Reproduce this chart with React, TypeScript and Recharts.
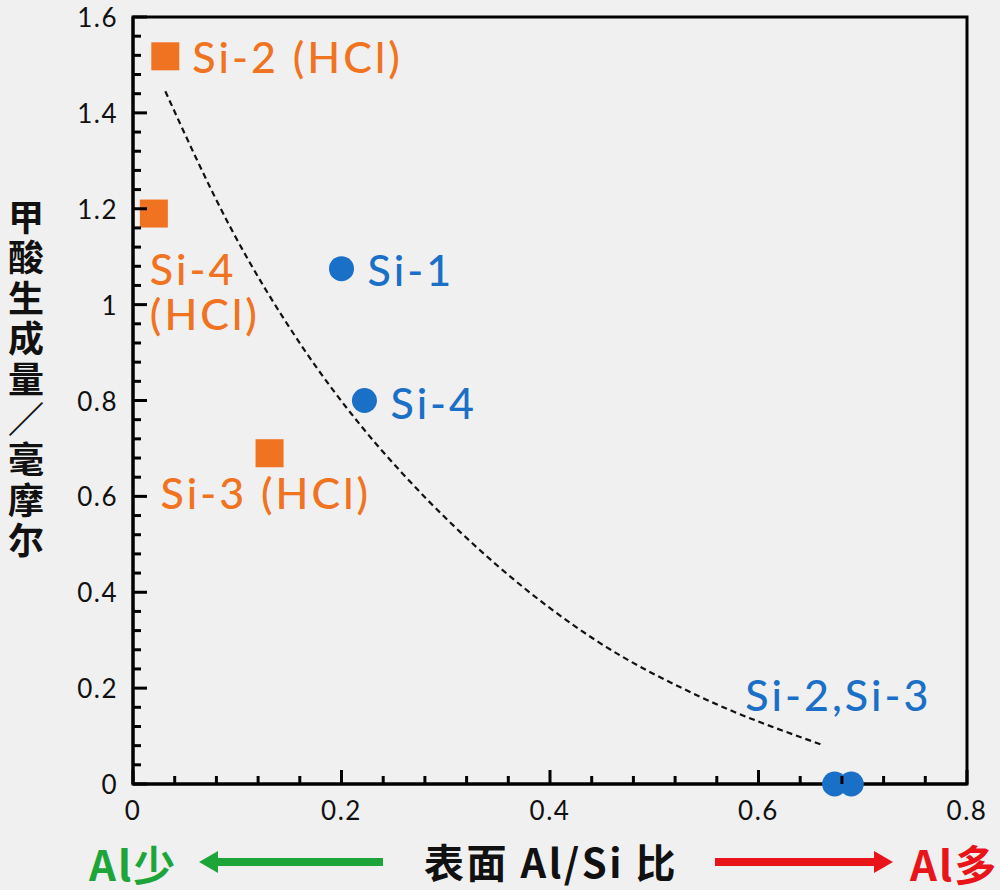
import React from 'react';
import { ComposedChart, Scatter, Line, XAxis, YAxis, ReferenceArea } from 'recharts';

// ---- data ----
const hclX = [0.031, 0.02, 0.131];
const hclY = [1.518, 1.19, 0.69];
const hclNames = ['Si-2 (HCl)', 'Si-4 (HCl)', 'Si-3 (HCl)'];

const rawX = [0.2, 0.222, 0.673, 0.689];
const rawY = [1.075, 0.8, 0.0, 0.0];
const rawNames = ['Si-1', 'Si-4', 'Si-2', 'Si-3'];

const curveX = [0.031, 0.093, 0.163, 0.218, 0.258, 0.352, 0.448, 0.544, 0.662];
const curveY = [1.445, 1.163, 0.91, 0.749, 0.649, 0.451, 0.294, 0.182, 0.081];

const xTicks = [0, 0.04, 0.08, 0.12, 0.16, 0.2, 0.24, 0.28, 0.32, 0.36, 0.4, 0.44, 0.48, 0.52, 0.56, 0.6, 0.64, 0.68, 0.72, 0.76, 0.8];
const yTicks = [0, 0.04, 0.08, 0.12, 0.16, 0.2, 0.24, 0.28, 0.32, 0.36, 0.4, 0.44, 0.48, 0.52, 0.56, 0.6, 0.64, 0.68, 0.72, 0.76, 0.8,
  0.84, 0.88, 0.92, 0.96, 1.0, 1.04, 1.08, 1.12, 1.16, 1.2, 1.24, 1.28, 1.32, 1.36, 1.4, 1.44, 1.48, 1.52, 1.56, 1.6];

const yTitle = ['甲', '酸', '生', '成', '量', '／', '毫', '摩', '尔'];
const xTitle = '表面 Al/Si 比';
const leftNote = 'Al少';
const rightNote = 'Al多';

const labelText: Record<string, string[]> = {
  'Si-2 (HCl)': ['Si-2 (HCl)'],
  'Si-4 (HCl)': ['Si-4', '(HCl)'],
  'Si-3 (HCl)': ['Si-3 (HCl)'],
  'Si-1': ['Si-1'],
  'Si-4': ['Si-4'],
  'Si-2': [],
  'Si-3': ['Si-2,Si-3'],
};

// ---- layout / styles ----
const W = 1000;
const H = 890;
const MARGIN = { top: 17, right: 33, bottom: 66, left: 73 };
const Y_AXIS_W = 60;
const X_AXIS_H = 40;
const X_MAX = 0.8;
const Y_MAX = 1.6;
const plotL = MARGIN.left + Y_AXIS_W;
const plotB = H - MARGIN.bottom - X_AXIS_H;
const plotW = W - MARGIN.left - MARGIN.right - Y_AXIS_W;
const plotH = H - MARGIN.top - MARGIN.bottom - X_AXIS_H;
const MAJOR_LEN = 14;
const MINOR_LEN = 8;

const ORANGE = '#f07322';
const BLUE = '#1a6fc6';
const GREEN = '#1ea53a';
const RED = '#e8141a';
const LATIN = 'Lato, "Noto Sans", sans-serif';
const CJK = '"Noto Sans CJK SC", "Noto Sans", sans-serif';

const labelOffset: Record<string, [number, number]> = {
  'Si-2 (HCl)': [27, 0],
  'Si-4 (HCl)': [-4, 55],
  'Si-3 (HCl)': [-109, 39],
  'Si-1': [26, 1],
  'Si-4': [26, 2],
  'Si-2': [0, 0],
  'Si-3': [-106, -90],
};

const hclData = hclX.map((x, i) => ({ x, y: hclY[i], name: hclNames[i] }));
const rawData = rawX.map((x, i) => ({ x, y: rawY[i], name: rawNames[i] }));
const curveData = curveX.map((x, i) => ({ x, y: curveY[i] }));

const isMajor = (v: number) => Math.abs(v / 0.2 - Math.round(v / 0.2)) < 1e-6;
const fmt = (v: number) => String(Number(v.toFixed(2)));
const tickLen = (v: number) => (isMajor(v) ? MAJOR_LEN : MINOR_LEN);

const Labels = ({ cx, cy, name, color }: any) => {
  const lines = labelText[name] || [];
  const [dx, dy] = labelOffset[name] || [0, 0];
  return (
    <>
      {lines.map((t, i) => (
        <text key={i} x={cx + dx} y={cy + dy + i * 45} fill={color} fontSize={43} fontFamily={LATIN}
          letterSpacing={3} fontWeight={500} dominantBaseline="central">{t}</text>
      ))}
    </>
  );
};

const SquareShape = (p: any) => {
  const { cx, cy, payload } = p;
  return (
    <g>
      <rect x={cx - 14} y={cy - 14} width={28} height={28} fill={ORANGE} />
      <Labels cx={cx} cy={cy} name={payload.name} color={ORANGE} />
    </g>
  );
};

const CircleShape = (p: any) => {
  const { cx, cy, payload } = p;
  return (
    <g>
      <circle cx={cx} cy={cy} r={12.5} fill={BLUE} />
      <Labels cx={cx} cy={cy} name={payload.name} color={BLUE} />
    </g>
  );
};

const renderXTick = (props: any) => {
  const { x, y, payload } = props;
  const v = payload.value;
  if (!isMajor(v)) return <g key={`xt-${v}`} />;
  return (
    <text key={`xt-${v}`} x={x} y={y + 26} textAnchor="middle" dominantBaseline="central" fontSize={26}
      letterSpacing={1.5} fontFamily={LATIN} fill="#111">{fmt(v)}</text>
  );
};

const renderYTick = (props: any) => {
  const { x, y, payload } = props;
  const v = payload.value;
  if (!isMajor(v)) return <g key={`yt-${v}`} />;
  return (
    <text key={`yt-${v}`} x={x - 15} y={y} textAnchor="end" dominantBaseline="central" fontSize={26}
      letterSpacing={1.5} fontFamily={LATIN} fill="#111">{fmt(v)}</text>
  );
};

// inward tick marks, positioned from the same axis geometry as the chart
const Overlay = () => (
  <svg width={W} height={H} style={{ position: 'absolute', left: 0, top: 0, pointerEvents: 'none' }}>
    {xTicks.map((v) => {
      const px = plotL + (v / X_MAX) * plotW;
      return <line key={`xm-${v}`} x1={px} x2={px} y1={plotB} y2={plotB - tickLen(v)} stroke="#000" strokeWidth={3} />;
    })}
    {yTicks.map((v) => {
      const py = plotB - (v / Y_MAX) * plotH;
      return <line key={`ym-${v}`} x1={plotL} x2={plotL + tickLen(v)} y1={py} y2={py} stroke="#000" strokeWidth={3} />;
    })}
    {yTitle.map((c, i) => (
      <text key={i} x={26} y={215 + i * 40.4} textAnchor="middle" dominantBaseline="central"
        fontSize={36} fontWeight={700} fontFamily={CJK} fill="#111">{c}</text>
    ))}
    <text x={551} y={861} textAnchor="middle" dominantBaseline="central" fontSize={40} fontWeight={700}
      letterSpacing={2.5} fontFamily={CJK} fill="#111">{xTitle}</text>
    <text x={89} y={862} dominantBaseline="central" fontSize={42} fontWeight={700} letterSpacing={2}
      fontFamily={CJK} fill={GREEN}>{leftNote}</text>
    <line x1={383} x2={214} y1={862} y2={862} stroke={GREEN} strokeWidth={8} />
    <polygon points="199,862 218,851 218,873" fill={GREEN} />
    <line x1={715} x2={876} y1={862} y2={862} stroke={RED} strokeWidth={8} />
    <polygon points="893,862 874,851 874,873" fill={RED} />
    <text x={910} y={862} dominantBaseline="central" fontSize={42} fontWeight={700} letterSpacing={2}
      fontFamily={CJK} fill={RED}>{rightNote}</text>
  </svg>
);

export default function App() {
  return (
    <div style={{ position: 'absolute', left: 0, top: 0, width: W, height: H, background: '#f0f0f0' }}>
      <ComposedChart width={W} height={H} margin={MARGIN}>
        <XAxis dataKey="x" type="number" domain={[0, X_MAX]} ticks={xTicks} interval={0}
          tickSize={0} tickMargin={0} tickLine={false} tick={renderXTick}
          axisLine={{ stroke: '#000', strokeWidth: 3 }} height={X_AXIS_H} />
        <YAxis dataKey="y" type="number" domain={[0, Y_MAX]} ticks={yTicks} interval={0}
          tickSize={0} tickMargin={0} tickLine={false} tick={renderYTick}
          axisLine={{ stroke: '#000', strokeWidth: 3 }} width={Y_AXIS_W} />
        <ReferenceArea x1={0} x2={X_MAX} y1={0} y2={Y_MAX} fill="none" fillOpacity={0} stroke="#000" strokeWidth={3} />
        <Line data={curveData} dataKey="y" type="monotone" stroke="#111" strokeWidth={2.2}
          strokeDasharray="6 4" dot={false} activeDot={false} isAnimationActive={false} />
        <Scatter data={hclData} dataKey="y" shape={<SquareShape />} isAnimationActive={false} />
        <Scatter data={rawData} dataKey="y" shape={<CircleShape />} isAnimationActive={false} />
      </ComposedChart>
      <Overlay />
    </div>
  );
}
